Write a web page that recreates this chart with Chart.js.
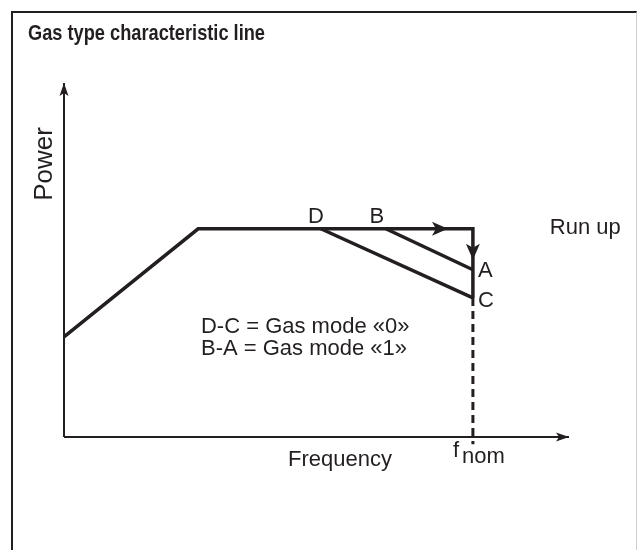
<!DOCTYPE html>
<html>
<head>
<meta charset="utf-8">
<script src="https://cdn.jsdelivr.net/npm/chart.js@4.4.1/dist/chart.umd.min.js"></script>
<style>
  html, body { margin: 0; padding: 0; background: #ffffff; }
  #wrap { position: relative; width: 637px; height: 550px; overflow: hidden; }
  #frame { position: absolute; left: 11px; top: 11px; width: 626px; height: 600px;
           border-left: 2px solid #231f20; border-top: 2px solid #231f20; border-right: 1px solid #cfcfcf; box-sizing: border-box; }
  canvas { position: absolute; left: 0; top: 0; }
</style>
</head>
<body>
<div id="wrap">
  <div id="frame"></div>
  <canvas id="c" width="637" height="550"></canvas>
</div>
<script>
// ---- data (frequency in % of f_nom, power in % of max power) ----
const title = "Gas type characteristic line";
const xAxisMax = 123.5;     // end of frequency axis arrow
const yAxisMax = 170;       // end of power axis arrow
const runUpX = [0, 32.8, 100, 100];
const runUpY = [48.1, 100, 100, 66.8];
const gasMode0X = [62.8, 100];      // D -> C
const gasMode0Y = [100, 66.8];
const gasMode1X = [78.7, 100];      // B -> A
const gasMode1Y = [100, 80.3];
const fnomX = [100, 100];
const fnomY = [66.8, -3.5];
const pointLabels = ["D", "B", "A", "C"];
const pointLabelX = [61.6, 76.5, 100, 100];
const pointLabelY = [100, 100, 80.3, 66.8];
const arrowX = [93.9, 100];
const arrowY = [100, 85.1];
const arrowDir = ["right", "down"];
const noteLines = ["D-C = Gas mode «0»", "B-A = Gas mode «1»"];
const noteX = 33.5;
const noteY = [50.0, 39.4];
const runUpLabel = "Run up";
const runUpLabelX = 118.8;
const xTitle = "Frequency";
const xTitleX = 54.8;
const yTitle = "Power";
const fnomLabel = ["f", "nom"];

const INK = "#231f20";
const FONT = "'Liberation Sans', Arial, sans-serif";

function pts(xs, ys) { return xs.map((x, i) => ({ x: x, y: ys[i] })); }

function lineDs(data, width, dash) {
  return { data: data, showLine: true, borderColor: INK, backgroundColor: INK,
           borderWidth: width, borderDash: dash || [], pointRadius: 0, fill: false,
           clip: false, tension: 0, borderCapStyle: 'butt', borderJoinStyle: 'miter' };
}

function arrowHead(ctx, x, y, dir, len, half, notch) {
  ctx.save();
  ctx.translate(x, y);
  const ang = { right: 0, down: Math.PI / 2, left: Math.PI, up: -Math.PI / 2 }[dir];
  ctx.rotate(ang);
  ctx.beginPath();
  ctx.moveTo(0, 0);
  ctx.lineTo(-len, -half);
  ctx.lineTo(-len + notch, 0);
  ctx.lineTo(-len, half);
  ctx.closePath();
  ctx.fillStyle = INK;
  ctx.fill();
  ctx.restore();
}

const overlay = {
  id: 'overlay',
  afterDatasetsDraw(chart) {
    const ctx = chart.ctx;
    const xs = chart.scales.x, ys = chart.scales.y;
    const X = v => xs.getPixelForValue(v), Y = v => ys.getPixelForValue(v);
    // axis arrows
    arrowHead(ctx, X(xAxisMax), Y(0), 'right', 13, 4.5, 3);
    arrowHead(ctx, X(0), Y(yAxisMax), 'up', 13, 4.5, 3);
    // curve arrows
    arrowX.forEach((ax, i) => arrowHead(ctx, X(ax), Y(arrowY[i]), arrowDir[i], 16, 7, 4));

    ctx.save();
    ctx.fillStyle = INK;
    // title (condensed bold)
    ctx.font = "bold 22px " + FONT;
    ctx.textAlign = 'left'; ctx.textBaseline = 'alphabetic';
    const tw = ctx.measureText(title).width;
    ctx.save();
    ctx.translate(28, 40);
    ctx.scale(237 / tw, 1);
    ctx.fillText(title, 0, 0);
    ctx.restore();

    ctx.font = "22px " + FONT;
    // point labels
    const offs = [[0, -6, 'center'], [0, -6, 'center'], [5, 7, 'left'], [5, 9, 'left']];
    pointLabels.forEach((t, i) => {
      ctx.textAlign = offs[i][2];
      ctx.fillText(t, X(pointLabelX[i]) + offs[i][0], Y(pointLabelY[i]) + offs[i][1]);
    });
    // notes
    ctx.textAlign = 'left';
    noteLines.forEach((t, i) => ctx.fillText(t, X(noteX), Y(noteY[i])));
    // run up
    ctx.fillText(runUpLabel, X(runUpLabelX), Y(100) + 5);
    // x title
    ctx.fillText(xTitle, X(xTitleX), Y(0) + 29);
    // f_nom
    const fx = X(100) - 20;
    ctx.fillText(fnomLabel[0], fx, Y(0) + 20);
    const fw = ctx.measureText(fnomLabel[0]).width;
    ctx.fillText(fnomLabel[1], fx + fw + 3, Y(0) + 26);
    // y title
    ctx.font = "26px " + FONT;
    ctx.save();
    ctx.translate(X(0) - 12, 164);
    ctx.rotate(-Math.PI / 2);
    ctx.textAlign = 'center';
    ctx.fillText(yTitle, 0, 0);
    ctx.restore();
    ctx.restore();
  }
};

new Chart(document.getElementById('c'), {
  type: 'scatter',
  data: {
    datasets: [
      lineDs(pts([0, xAxisMax], [0, 0]), 2),
      lineDs(pts([0, 0], [0, yAxisMax]), 2),
      lineDs(pts(runUpX, runUpY), 3.5),
      lineDs(pts(gasMode0X, gasMode0Y), 3.5),
      lineDs(pts(gasMode1X, gasMode1Y), 3.5),
      lineDs(pts(fnomX, fnomY), 3, [8, 5])
    ]
  },
  options: {
    responsive: false,
    animation: false,
    events: [],
    layout: { padding: { left: 64, right: 68, top: 83, bottom: 113 } },
    plugins: { legend: { display: false }, tooltip: { enabled: false }, title: { display: false } },
    scales: {
      x: { type: 'linear', min: 0, max: xAxisMax, display: false },
      y: { type: 'linear', min: 0, max: yAxisMax, display: false }
    }
  },
  plugins: [overlay]
});
</script>
</body>
</html>
